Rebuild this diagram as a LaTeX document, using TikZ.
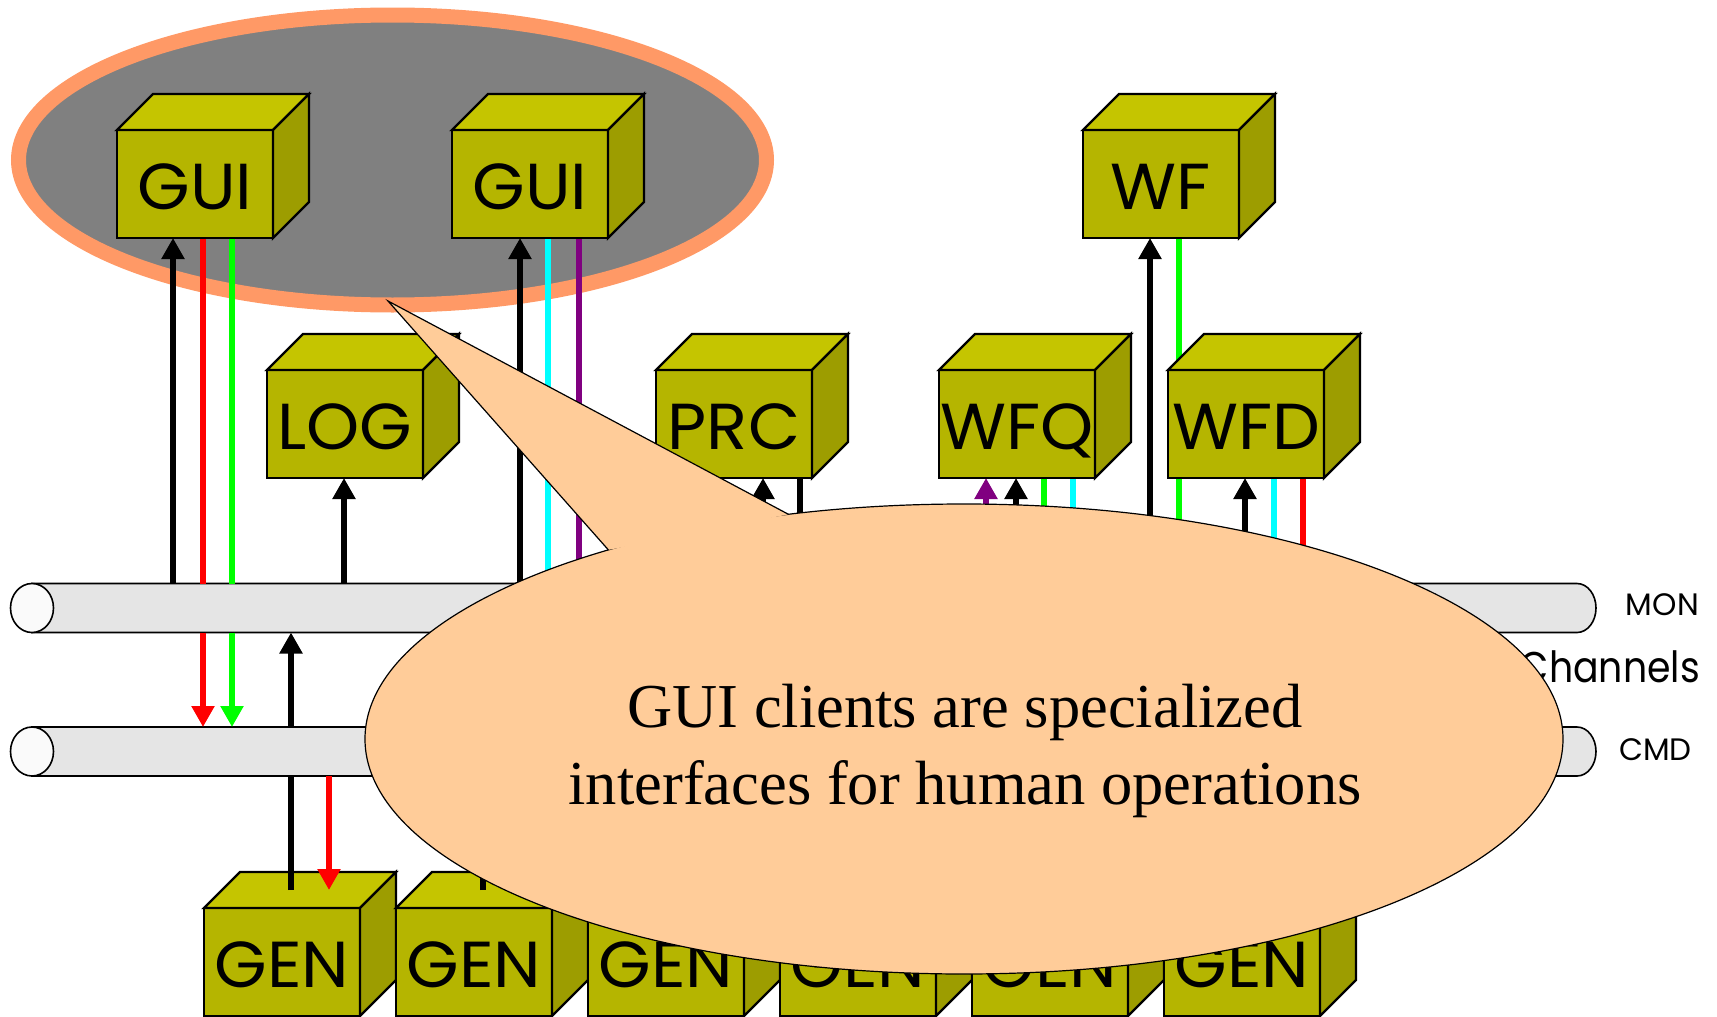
\documentclass[tikz,border=0pt]{standalone}
\usepackage{fontspec}
\usetikzlibrary{arrows.meta,shapes.geometric}
\newfontfamily\boxfont{Poppins}
\newfontfamily\boxfontwide[FakeStretch=1.04]{Poppins}
\newfontfamily\boxfontnarrow[FakeStretch=0.88]{Poppins}
\newfontfamily\noteserif{Liberation Serif}

\definecolor{cubefront}{RGB}{181,181,0}
\definecolor{cubetop}{RGB}{197,197,0}
\definecolor{cubeside}{RGB}{157,157,0}
\definecolor{haloorange}{RGB}{255,153,102}
\definecolor{clustergray}{RGB}{128,128,128}
\definecolor{chanbody}{RGB}{229,229,229}
\definecolor{chancap}{RGB}{250,250,250}
\definecolor{notefill}{RGB}{255,204,153}
\definecolor{sigred}{RGB}{255,0,0}
\definecolor{siggreen}{RGB}{0,255,0}
\definecolor{sigcyan}{RGB}{0,255,255}
\definecolor{sigpurple}{RGB}{128,0,128}

\tikzset{
  cube/.style={draw=black, line width=2.4pt, fill=cubefront,
    minimum width=156pt, minimum height=108pt, inner sep=0pt, outer sep=0pt,
    font=\boxfontwide\fontsize{65}{65}\selectfont, text height=51pt, text depth=0pt},
  cubeedge/.style={draw=black, line width=2.4pt},
  chanframe/.style={rectangle, draw=none, minimum width=1545pt, minimum height=49pt,
    inner sep=0pt, outer sep=0pt},
  chanline/.style={draw=black, line width=1.6pt},
  sig/.style={line width=6pt},
  arrowup/.style={sig, -{Triangle[width=22pt,length=21pt]}},
  arrowdown/.style={sig, -{Triangle[width=22pt,length=21pt]}},
  chanlbl/.style={inner sep=0pt, font=\boxfont\fontsize{31}{31}\selectfont},
  grouplbl/.style={inner sep=0pt, font=\boxfontnarrow\fontsize{43}{43}\selectfont},
  noteline/.style={draw=black, line width=1.2pt},
}

% one olive cube: front face node plus top and side faces
\newcommand\placecube[4]{%
  \node[cube] (#1) at (#2,#3) {#4};
  \draw[cubeedge, fill=cubetop] (#1.north west) -- ++(36,-36) -- ++(156,0) -- (#1.north east) -- cycle;
  \draw[cubeedge, fill=cubeside] (#1.north east) -- ++(36,-36) -- ++(0,108) -- (#1.south east) -- cycle;
}

\begin{document}
\begin{tikzpicture}[x=1pt, y=-1pt]
\useasboundingbox (0,0) rectangle (1717,1017);
\fill[white] (0,0) rectangle (1717,1017);

% GUI client group
\node[ellipse, draw=haloorange, line width=15pt, fill=clustergray,
  minimum width=748pt, minimum height=290pt, inner sep=0pt] (guigroup) at (392.5,160) {};

% channels
\node[chanframe] (mon) at (804.5,608) {};
\node[chanframe] (cmd) at (804.5,751.5) {};
\foreach \ch in {mon,cmd}{
  \draw[chanline, fill=chanbody] (\ch.north west) -- (\ch.north east)
    arc[start angle=90, end angle=-90, x radius=19pt, y radius=24.5pt]
    -- (\ch.south west) -- cycle;
  \draw[chanline, fill=chancap] (\ch.west) ellipse [x radius=21.5pt, y radius=24.5pt];
}

% lower-left corners of the client boxes (front faces)
\path (117,238) coordinate (gui1sw) (452,238) coordinate (gui2sw) (1083,238) coordinate (wfsw)
      (267,478) coordinate (logsw) (656,478) coordinate (prcsw) (939,478) coordinate (wfqsw)
      (1168,478) coordinate (wfdsw);

% wire attachment points
\coordinate (ga) at ([xshift=56pt]gui1sw);
\coordinate (gb) at ([xshift=86pt]gui1sw);
\coordinate (gc) at ([xshift=115pt]gui1sw);
\coordinate (ha) at ([xshift=68pt]gui2sw);
\coordinate (hb) at ([xshift=96pt]gui2sw);
\coordinate (hc) at ([xshift=127pt]gui2sw);
\coordinate (la) at ([xshift=77pt]logsw);
\coordinate (pa) at ([xshift=107pt]prcsw);
\coordinate (pb) at ([xshift=144pt]prcsw);
\coordinate (qa) at ([xshift=47pt]wfqsw);
\coordinate (qb) at ([xshift=77pt]wfqsw);
\coordinate (qc) at ([xshift=105pt]wfqsw);
\coordinate (qd) at ([xshift=134pt]wfqsw);
\coordinate (wa) at ([xshift=67pt]wfsw);
\coordinate (wb) at ([xshift=96pt]wfsw);
\coordinate (da) at ([xshift=77pt]wfdsw);
\coordinate (db) at ([xshift=106pt]wfdsw);
\coordinate (dc) at ([xshift=135pt]wfdsw);

% GUI 1
\draw[arrowup] (ga |- mon.north) -- (ga);
\draw[sig, sigred] (gb) -- (gb |- mon.north);
\draw[sig, siggreen] (gc) -- (gc |- mon.north);
\draw[arrowdown, sigred] (gb |- mon.south) -- (gb |- cmd.north);
\draw[arrowdown, siggreen] (gc |- mon.south) -- (gc |- cmd.north);
% LOG
\draw[arrowup] (la |- mon.north) -- (la);
% GUI 2
\draw[arrowup] (ha |- mon.north) -- (ha);
\draw[sig, sigcyan] (hb) -- (hb |- mon.north);
\draw[sig, sigpurple] (hc) -- (hc |- mon.north);
% PRC
\draw[arrowup] (pa |- mon.north) -- (pa);
\draw[sig] (pb) -- (pb |- mon.north);
% WFQ
\draw[arrowup, sigpurple] (qa |- mon.north) -- (qa);
\draw[arrowup] (qb |- mon.north) -- (qb);
\draw[sig, siggreen] (qc) -- (qc |- mon.north);
\draw[sig, sigcyan] (qd) -- (qd |- mon.north);
% WF
\draw[arrowup] (wa |- mon.north) -- (wa);
\draw[sig, siggreen] (wb) -- (wb |- mon.north);
% WFD
\draw[arrowup] (da |- mon.north) -- (da);
\draw[sig, sigcyan] (db) -- (db |- mon.north);
\draw[sig, sigred] (dc) -- (dc |- mon.north);

% client boxes
\placecube{gui1}{195}{184}{GUI}
\placecube{gui2}{530}{184}{GUI}
\placecube{wf}{1161}{184}{WF}
\placecube{log}{345}{424}{LOG}
\placecube{prc}{734}{424}{PRC}
\placecube{wfq}{1017}{424}{WFQ}
\placecube{wfd}{1246}{424}{WFD}

% generators
\foreach \i [evaluate=\i as \gx using {282+192*(\i-1)}] in {1,...,6}{
  \placecube{gen\i}{\gx}{962}{GEN}
}

% generator wires
\coordinate (ea) at ([xshift=87pt, yshift=18pt]gen1.north west);
\coordinate (eb) at ([xshift=125pt, yshift=18pt]gen1.north west);
\coordinate (fa) at ([xshift=87pt, yshift=18pt]gen2.north west);
\coordinate (fb) at ([xshift=125pt, yshift=18pt]gen2.north west);
\draw[arrowup] (ea |- cmd.north) -- (ea |- mon.south);
\draw[sig] (ea) -- (ea |- cmd.south);
\draw[arrowdown, sigred] (eb |- cmd.south) -- (eb);
\draw[sig] (fa) -- (fa |- cmd.south);
\draw[arrowdown, sigred] (fb |- cmd.south) -- (fb);

% channel labels
\node[chanlbl, anchor=base east] (monlabel) at (1699,615) {MON};
\node[chanlbl, anchor=base east] (cmdlabel) at (1692,760) {CMD};
\node[grouplbl, anchor=base east] (chanlabel) at (1700,682) {Channels};

% speech balloon
\node[ellipse, noteline, fill=notefill, minimum width=1198pt, minimum height=470pt,
  inner sep=0pt, outer sep=0pt] (note) at (964,739) {};
\coordinate (notetip) at (388,301);
\fill[notefill] (note.152.7) -- (notetip) -- (note.128.1) -- cycle;
\draw[noteline, line join=miter] (note.152.7) -- (notetip) -- (note.128.1);
\node[font=\noteserif\fontsize{62.5}{77}\selectfont, align=center, inner sep=0pt]
  (notetext) at (965,751) {GUI clients are specialized\\interfaces for human operations};
\end{tikzpicture}
\end{document}
